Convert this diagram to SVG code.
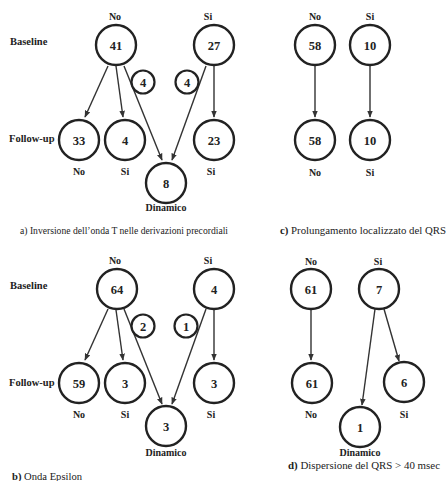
<svg xmlns="http://www.w3.org/2000/svg" width="447" height="481" viewBox="0 0 447 481">
<defs>
<marker id="ah" viewBox="0 0 10 10" refX="9" refY="5" markerWidth="5" markerHeight="5" orient="auto" markerUnits="strokeWidth">
<path d="M0,1 L10,5 L0,9 z" fill="#333"/>
</marker>
<style>
.c{fill:#fff;stroke:#222;stroke-width:2.4}
.s{fill:#fff;stroke:#222;stroke-width:2.2}
.n{font-weight:bold;font-size:12.5px;text-anchor:middle}
.l{font-weight:bold;font-size:10px;text-anchor:middle}
.r{font-weight:bold;font-size:10.5px}
.cap{font-size:10px}
.e line{stroke:#333;stroke-width:1.4;marker-end:url(#ah)}
</style>
</defs>
<rect width="447" height="481" fill="#fff"/>

<g id="connectors" class="e">
<line x1="108" y1="66" x2="85" y2="117"/>
<line x1="116" y1="66" x2="123" y2="117"/>
<line x1="124" y1="66" x2="162" y2="160"/>
<line x1="206" y1="66" x2="172" y2="160"/>
<line x1="214" y1="66" x2="214" y2="117"/>
<line x1="315" y1="66" x2="315" y2="117"/>
<line x1="370" y1="66" x2="370" y2="117"/>
<line x1="108" y1="309" x2="85" y2="360"/>
<line x1="116" y1="310" x2="123" y2="360"/>
<line x1="124" y1="309" x2="162" y2="404"/>
<line x1="206" y1="309" x2="172" y2="404"/>
<line x1="214" y1="310" x2="214" y2="360"/>
<line x1="311" y1="310" x2="311" y2="360"/>
<line x1="375" y1="309" x2="362" y2="405"/>
<line x1="384" y1="309" x2="399" y2="361"/>
</g>

<g font-family="Liberation Serif, Tinos, Times New Roman, DejaVu Serif, serif" fill="#222">
<g id="row-labels">
<text class="r" x="10" y="45">Baseline</text>
<text class="r" x="9" y="142">Follow-up</text>
<text class="r" x="10" y="289">Baseline</text>
<text class="r" x="9" y="386">Follow-up</text>
</g>

<!-- Panel a -->
<g id="a-base-no"><text class="l" x="115" y="20">No</text><circle class="c" cx="116" cy="45" r="20"/><text class="n" x="116" y="49.5">41</text></g>
<g id="a-base-si"><text class="l" x="208" y="20">Si</text><circle class="c" cx="214" cy="45" r="20"/><text class="n" x="214" y="49.5">27</text></g>
<g id="a-small-4l"><circle class="s" cx="143" cy="82" r="11.5"/><text class="n" x="143" y="86.5">4</text></g>
<g id="a-small-4r"><circle class="s" cx="187" cy="82" r="11.5"/><text class="n" x="187" y="86.5">4</text></g>
<g id="a-fu-no"><circle class="c" cx="79" cy="140" r="20"/><text class="n" x="79" y="144.5">33</text><text class="l" x="79" y="175">No</text></g>
<g id="a-fu-si"><circle class="c" cx="125" cy="140" r="20"/><text class="n" x="125" y="144.5">4</text><text class="l" x="125" y="175">Si</text></g>
<g id="a-fu-si2"><circle class="c" cx="214" cy="140" r="20"/><text class="n" x="214" y="144.5">23</text><text class="l" x="211" y="175">Si</text></g>
<g id="a-din"><circle class="c" cx="166" cy="183" r="20"/><text class="n" x="166" y="187.5">8</text><text class="l" x="166" y="211">Dinamico</text></g>
<text class="cap" x="20" y="234" textLength="208" lengthAdjust="spacingAndGlyphs">a) Inversione dell’onda T nelle derivazioni precordiali</text>

<!-- Panel c -->
<g id="c-base-no"><text class="l" x="315" y="20">No</text><circle class="c" cx="315" cy="45" r="20"/><text class="n" x="315" y="49.5">58</text></g>
<g id="c-base-si"><text class="l" x="370" y="20">Si</text><circle class="c" cx="370" cy="45" r="20"/><text class="n" x="370" y="49.5">10</text></g>
<g id="c-fu-no"><circle class="c" cx="315" cy="140" r="20"/><text class="n" x="315" y="144.5">58</text><text class="l" x="315" y="176">No</text></g>
<g id="c-fu-si"><circle class="c" cx="370" cy="140" r="20"/><text class="n" x="370" y="144.5">10</text><text class="l" x="370" y="176">Si</text></g>
<text class="cap" x="280" y="234" textLength="166" lengthAdjust="spacingAndGlyphs"><tspan font-weight="bold">c)</tspan> Prolungamento localizzato del QRS</text>

<!-- Panel b -->
<g id="b-base-no"><text class="l" x="115" y="264">No</text><circle class="c" cx="117" cy="289" r="20"/><text class="n" x="117" y="293.5">64</text></g>
<g id="b-base-si"><text class="l" x="208" y="264">Si</text><circle class="c" cx="214" cy="289" r="20"/><text class="n" x="214" y="293.5">4</text></g>
<g id="b-small-2"><circle class="s" cx="143" cy="326" r="11.5"/><text class="n" x="143" y="330.5">2</text></g>
<g id="b-small-1"><circle class="s" cx="186" cy="326" r="11.5"/><text class="n" x="186" y="330.5">1</text></g>
<g id="b-fu-no"><circle class="c" cx="79" cy="383" r="20"/><text class="n" x="79" y="387.5">59</text><text class="l" x="79" y="418">No</text></g>
<g id="b-fu-si"><circle class="c" cx="125" cy="383" r="20"/><text class="n" x="125" y="387.5">3</text><text class="l" x="125" y="418">Si</text></g>
<g id="b-fu-si2"><circle class="c" cx="214" cy="383" r="20"/><text class="n" x="214" y="387.5">3</text><text class="l" x="211" y="418">Si</text></g>
<g id="b-din"><circle class="c" cx="166" cy="426" r="20"/><text class="n" x="166" y="430.5">3</text><text class="l" x="166" y="456">Dinamico</text></g>
<text class="cap" x="12" y="480" textLength="70" lengthAdjust="spacingAndGlyphs"><tspan font-weight="bold">b)</tspan> Onda Epsilon</text>

<!-- Panel d -->
<g id="d-base-no"><text class="l" x="311" y="265">No</text><circle class="c" cx="311" cy="289" r="20"/><text class="n" x="311" y="293.5">61</text></g>
<g id="d-base-si"><text class="l" x="378" y="265">Si</text><circle class="c" cx="379" cy="289" r="20"/><text class="n" x="379" y="293.5">7</text></g>
<g id="d-fu-no"><circle class="c" cx="312" cy="383" r="20"/><text class="n" x="312" y="387.5">61</text><text class="l" x="311" y="418">No</text></g>
<g id="d-fu-si"><circle class="c" cx="404" cy="382" r="20"/><text class="n" x="404" y="386.5">6</text><text class="l" x="404" y="418">Si</text></g>
<g id="d-din"><circle class="c" cx="360" cy="427" r="20"/><text class="n" x="360" y="431.5">1</text><text class="l" x="360" y="456">Dinamico</text></g>
<text class="cap" x="288" y="469" textLength="152" lengthAdjust="spacingAndGlyphs"><tspan font-weight="bold">d)</tspan> Dispersione del QRS &gt; 40 msec</text>
</g>
</svg>
